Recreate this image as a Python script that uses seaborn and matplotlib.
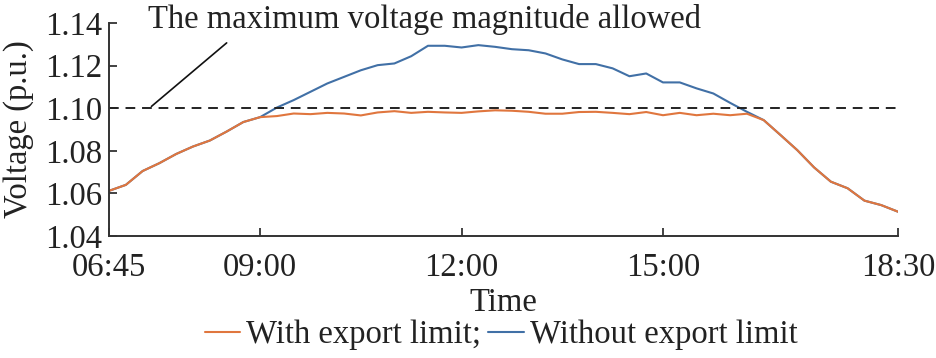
import numpy as np
import pandas as pd
import seaborn as sns
import matplotlib.pyplot as plt

sns.set_style('ticks')
plt.rcParams['font.family'] = ['Liberation Serif', 'DejaVu Serif']

times = ['06:45', '07:00', '07:15', '07:30', '07:45', '08:00', '08:15', '08:30',
         '08:45', '09:00', '09:15', '09:30', '09:45', '10:00', '10:15', '10:30',
         '10:45', '11:00', '11:15', '11:30', '11:45', '12:00', '12:15', '12:30',
         '12:45', '13:00', '13:15', '13:30', '13:45', '14:00', '14:15', '14:30',
         '14:45', '15:00', '15:15', '15:30', '15:45', '16:00', '16:15', '16:30',
         '16:45', '17:00', '17:15', '17:30', '17:45', '18:00', '18:15', '18:30']

with_limit = [1.0612, 1.0640, 1.0705, 1.0742, 1.0785, 1.0820, 1.0848, 1.0890,
              1.0935, 1.0958, 1.0963, 1.0975, 1.0972, 1.0978, 1.0975, 1.0966,
              1.0980, 1.0986, 1.0978, 1.0983, 1.0980, 1.0978, 1.0985, 1.0990,
              1.0988, 1.0983, 1.0974, 1.0974, 1.0982, 1.0983, 1.0978, 1.0972,
              1.0982, 1.0967, 1.0978, 1.0967, 1.0974, 1.0967, 1.0974, 1.0944,
              1.0874, 1.0803, 1.0722, 1.0655, 1.0624, 1.0566, 1.0545, 1.0514]

without_limit = [1.0612, 1.0640, 1.0705, 1.0742, 1.0785, 1.0820, 1.0848, 1.0890,
                 1.0935, 1.0958, 1.1003, 1.1038, 1.1077, 1.1116, 1.1147, 1.1178,
                 1.1202, 1.1210, 1.1244, 1.1293, 1.1293, 1.1285, 1.1296, 1.1288,
                 1.1277, 1.1272, 1.1257, 1.1229, 1.1207, 1.1207, 1.1187, 1.1150,
                 1.1163, 1.1121, 1.1121, 1.1093, 1.1069, 1.1025, 1.0983, 1.0944,
                 1.0874, 1.0803, 1.0722, 1.0655, 1.0624, 1.0566, 1.0545, 1.0514]

v_max = 1.10
tick_times = ['06:45', '09:00', '12:00', '15:00', '18:30']

def to_hours(t):
    h, m = t.split(':')
    return int(h) + int(m) / 60

hours = [to_hours(t) for t in times]
df = pd.DataFrame({
    'Time': hours * 2,
    'Voltage': with_limit + without_limit,
    'case': ['With export limit;'] * len(hours) + ['Without export limit'] * len(hours),
})

fs = 23.5
txt = '#222222'

fig = plt.figure(figsize=(9.36, 3.58), dpi=100)
ax = fig.add_axes([0.1165, 0.3408, 0.8429, 0.595])

sns.lineplot(data=df, x='Time', y='Voltage', hue='case',
             hue_order=['Without export limit', 'With export limit;'],
             palette={'With export limit;': '#E0763E', 'Without export limit': '#4170A6'},
             linewidth=1.5, ax=ax)
ax.axhline(v_max, color=txt, lw=1.4, ls=(0, (5, 3.5)))
ax.annotate('', xy=(to_hours('07:21'), v_max), xytext=(to_hours('08:32'), 1.1315),
            arrowprops=dict(arrowstyle='-', color='#111111', lw=1.2))
ax.text(to_hours('07:20'), 1.1376, 'The maximum voltage magnitude allowed',
        fontsize=fs, va='baseline', ha='left', color=txt)

ax.set_xlim(hours[0], hours[-1])
ax.set_ylim(1.04, 1.14)
ax.set_yticks([1.04, 1.06, 1.08, 1.10, 1.12, 1.14])
ax.set_yticklabels(['%.2f' % v for v in ax.get_yticks()])
ax.set_xticks([to_hours(t) for t in tick_times])
ax.set_xticklabels(tick_times)
ax.tick_params(direction='in', length=6, width=1.2, labelsize=fs, colors=txt)
ax.tick_params(axis='x', pad=12)
ax.tick_params(axis='y', pad=5)
for s in ['left', 'bottom']:
    ax.spines[s].set_linewidth(1.4)
    ax.spines[s].set_color('#333333')
sns.despine(ax=ax)
ax.set_xlabel('Time', fontsize=fs, labelpad=3, color=txt)
ax.set_ylabel('Voltage (p.u.)', fontsize=fs, labelpad=8, color=txt)

handles, labels = ax.get_legend_handles_labels()
ax.get_legend().remove()
order = [labels.index('With export limit;'), labels.index('Without export limit')]
fig.legend([handles[i] for i in order], [labels[i] for i in order], ncol=2,
           loc='center', bbox_to_anchor=(501 / 936, 1 - 335 / 358), frameon=False,
           fontsize=fs, handlelength=1.1, handletextpad=0.18, columnspacing=0.2,
           borderaxespad=0, borderpad=0, labelcolor=txt)

fig.savefig('out.png', dpi=100)
